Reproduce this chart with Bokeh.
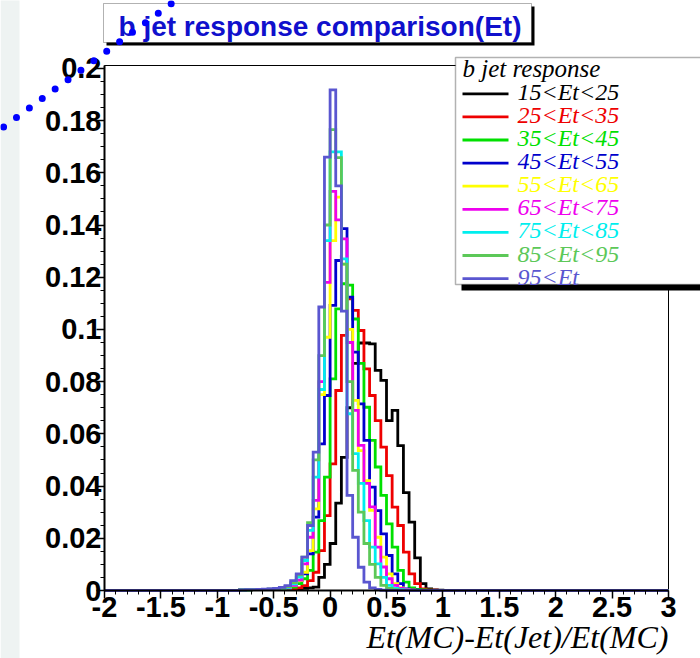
import numpy as np
from bokeh.plotting import figure
from bokeh.models import Range1d, FixedTicker, Label, BoxAnnotation, Arrow
from bokeh.embed import file_html
from bokeh.resources import INLINE

# ---------------- data ----------------
bin_width = 0.05
first_edge = -0.8          # left edge of the first listed bin
x_lo, x_hi = -2.0, 3.0
y_hi = 0.2011

series_labels = ["15<Et<25", "25<Et<35", "35<Et<45", "45<Et<55", "55<Et<65",
                 "65<Et<75", "75<Et<85", "85<Et<95", "95<Et"]
series_colors = ["#000000", "#ee0000", "#00e000", "#0000cc", "#ffff00",
                 "#ee00ee", "#00eeee", "#5cc858", "#5a56d0"]

et_15_25 = [0.0003, 0.0003, 0.0003, 0.0003, 0.0004, 0.0004, 0.0004, 0.0005, 0.0005, 0.0006,
            0.0007, 0.0008, 0.0010, 0.0013, 0.0050, 0.0100, 0.0180, 0.0335, 0.0510, 0.0700,
            0.0870, 0.0948, 0.0948, 0.0945, 0.0843, 0.0805, 0.0651, 0.0690, 0.0555, 0.0375,
            0.0262, 0.0125, 0.0026, 0.0006, 0.0002, 0.0001]
et_25_35 = [0.0002, 0.0002, 0.0003, 0.0003, 0.0003, 0.0004, 0.0004, 0.0005, 0.0005, 0.0006,
            0.0010, 0.0019, 0.0038, 0.0070, 0.0153, 0.0287, 0.0485, 0.0766, 0.0977, 0.1117,
            0.1073, 0.0996, 0.0849, 0.0747, 0.0651, 0.0549, 0.0440, 0.0319, 0.0249, 0.0147,
            0.0064, 0.0026, 0.0006, 0.0002, 0.0001, 0.0]
et_35_45 = [0.0002, 0.0003, 0.0003, 0.0003, 0.0004, 0.0004, 0.0005, 0.0006, 0.0008, 0.0013,
            0.0026, 0.0045, 0.0077, 0.0147, 0.0268, 0.0434, 0.0811, 0.1079, 0.1175, 0.1170,
            0.1040, 0.0870, 0.0702, 0.0575, 0.0473, 0.0364, 0.0255, 0.0166, 0.0077, 0.0032,
            0.0010, 0.0004, 0.0002, 0.0001, 0.0, 0.0]
et_45_55 = [0.0002, 0.0003, 0.0003, 0.0004, 0.0004, 0.0005, 0.0005, 0.0006, 0.0010, 0.0019,
            0.0038, 0.0064, 0.0140, 0.0281, 0.0562, 0.0747, 0.1092, 0.1264, 0.1386, 0.1124,
            0.0913, 0.0715, 0.0575, 0.0396, 0.0306, 0.0217, 0.0134, 0.0064, 0.0026, 0.0006,
            0.0002, 0.0001, 0.0, 0.0, 0.0, 0.0]
et_55_65 = [0.0002, 0.0002, 0.0003, 0.0003, 0.0004, 0.0004, 0.0005, 0.0006, 0.0010, 0.0020,
            0.0038, 0.0070, 0.0153, 0.0313, 0.0750, 0.0970, 0.1340, 0.1507, 0.1250, 0.1000,
            0.0728, 0.0536, 0.0421, 0.0307, 0.0204, 0.0128, 0.0064, 0.0026, 0.0010, 0.0003,
            0.0001, 0.0, 0.0, 0.0, 0.0, 0.0]
et_65_75 = [0.0002, 0.0002, 0.0003, 0.0003, 0.0004, 0.0004, 0.0005, 0.0006, 0.0010, 0.0020,
            0.0040, 0.0102, 0.0204, 0.0345, 0.0800, 0.1180, 0.1529, 0.1420, 0.1347, 0.0950,
            0.0690, 0.0556, 0.0410, 0.0320, 0.0166, 0.0090, 0.0045, 0.0020, 0.0008, 0.0003,
            0.0001, 0.0, 0.0, 0.0, 0.0, 0.0]
et_75_85 = [0.0002, 0.0002, 0.0003, 0.0003, 0.0004, 0.0004, 0.0005, 0.0006, 0.0012, 0.0025,
            0.0051, 0.0115, 0.0230, 0.0434, 0.0770, 0.1340, 0.1680, 0.1680, 0.1270, 0.0677,
            0.0524, 0.0410, 0.0268, 0.0166, 0.0102, 0.0050, 0.0020, 0.0008, 0.0003, 0.0001,
            0.0, 0.0, 0.0, 0.0, 0.0, 0.0]
et_85_95 = [0.0002, 0.0002, 0.0003, 0.0003, 0.0004, 0.0005, 0.0006, 0.0008, 0.0015, 0.0030,
            0.0060, 0.0128, 0.0260, 0.0500, 0.0900, 0.1400, 0.1765, 0.1658, 0.1250, 0.0800,
            0.0460, 0.0300, 0.0180, 0.0100, 0.0050, 0.0020, 0.0008, 0.0003, 0.0001, 0.0,
            0.0, 0.0, 0.0, 0.0, 0.0, 0.0]
et_95_up = [0.0002, 0.0003, 0.0003, 0.0004, 0.0005, 0.0006, 0.0008, 0.0012, 0.0019, 0.0038,
            0.0064, 0.0128, 0.0249, 0.0530, 0.1086, 0.1660, 0.1918, 0.1550, 0.1070, 0.0364,
            0.0204, 0.0089, 0.0032, 0.0010, 0.0004, 0.0001, 0.0, 0.0, 0.0, 0.0,
            0.0, 0.0, 0.0, 0.0, 0.0, 0.0]
series_values = [et_15_25, et_25_35, et_35_45, et_45_55, et_55_65,
                 et_65_75, et_75_85, et_85_95, et_95_up]

y_ticks = [0, 0.02, 0.04, 0.06, 0.08, 0.1, 0.12, 0.14, 0.16, 0.18, 0.2]
y_tick_labels = ["0", "0.02", "0.04", "0.06", "0.08", "0.1", "0.12", "0.14", "0.16", "0.18", "0.2"]
x_ticks = [-2, -1.5, -1, -0.5, 0, 0.5, 1, 1.5, 2, 2.5, 3]
x_tick_labels = ["-2", "-1.5", "-1", "-0.5", "0", "0.5", "1", "1.5", "2", "2.5", "3"]

title_text = "b jet response comparison(Et)"
legend_title = "b jet response"
x_title = "Et(MC)-Et(Jet)/Et(MC)"

# ---------------- layout (page pixels) ----------------
W, H = 700, 658
FL, FR, FT, FB = 104, 668, 65, 590   # histogram frame edges on the page
TXT = 7                               # alphabetic-baseline correction for labels

# the Bokeh frame covers the whole canvas; the ranges are widened so that the
# histogram area [x_lo, x_hi] x [0, y_hi] lands on the frame above.
px_per_x = (FR - FL) / (x_hi - x_lo)
px_per_y = (FB - FT) / y_hi
x_range = Range1d(x_lo - FL / px_per_x, x_hi + (W - FR) / px_per_x)
y_range = Range1d(-(H - FB) / px_per_y, y_hi + FT / px_per_y)


def sx(px):
    return px


def sy(py):
    return H - py


def box(l, t, r, b, **kw):
    return BoxAnnotation(left=sx(l), right=sx(r), top=sy(t), bottom=sy(b),
                         left_units="screen", right_units="screen",
                         top_units="screen", bottom_units="screen", **kw)


def text(x, base, s, **kw):
    return Label(x=sx(x), y=sy(base - TXT), x_units="screen", y_units="screen",
                 text=s, text_baseline="alphabetic", **kw)


p = figure(width=W, height=H, output_backend="svg", toolbar_location=None,
           x_range=x_range, y_range=y_range,
           min_border=0, min_border_left=0, min_border_right=0,
           min_border_top=0, min_border_bottom=0)
p.background_fill_color = "white"
p.border_fill_color = "white"
p.outline_line_color = None
p.xgrid.visible = False
p.ygrid.visible = False

# left pale strip of the slide
p.add_layout(box(0, -5, 19, H + 5, fill_color="#eef3f2", fill_alpha=1, line_alpha=0,
                 level="underlay"))

# histogram frame box
p.quad(left=[x_lo], right=[x_hi], bottom=[0], top=[y_hi], fill_alpha=0,
       line_color="black", line_width=1)


def staircase(values):
    edges = first_edge + bin_width * np.arange(len(values) + 1)
    xs = [x_lo, edges[0]]
    ys = [0.0, 0.0]
    for i, v in enumerate(values):
        xs += [edges[i], edges[i + 1]]
        ys += [v, v]
    xs += [edges[-1], x_hi]
    ys += [0.0, 0.0]
    return xs, ys


for vals, col in zip(series_values, series_colors):
    xs, ys = staircase(vals)
    p.line(xs, ys, line_color=col, line_width=2.8, line_join="miter")

# axes pinned to the histogram frame
p.xaxis.fixed_location = 0
p.yaxis.fixed_location = x_lo
p.xaxis.bounds = (x_lo, x_hi)
p.yaxis.bounds = (0, y_hi)
p.xaxis.ticker = FixedTicker(ticks=x_ticks, minor_ticks=list(np.round(np.arange(-2, 3.0001, 0.1), 2)))
p.yaxis.ticker = FixedTicker(ticks=y_ticks, minor_ticks=list(np.round(np.arange(0, 0.2001, 0.005), 3)))
p.xaxis.major_label_overrides = dict(zip(x_ticks, x_tick_labels))
p.yaxis.major_label_overrides = dict(zip(y_ticks, y_tick_labels))
for ax in (p.xaxis, p.yaxis):
    ax.axis_line_width = 2
    ax.axis_line_color = "black"
    ax.major_tick_in = 0
    ax.minor_tick_in = 0
    ax.major_tick_out = 8
    ax.minor_tick_out = 4
    ax.major_tick_line_width = 1.5
    ax.minor_tick_line_width = 1
    ax.major_label_text_font = "Liberation Sans"
    ax.major_label_text_font_style = "bold"
    ax.major_label_text_font_size = "29px"
    ax.major_label_text_color = "black"
p.yaxis.major_label_standoff = -5
p.xaxis.major_label_standoff = -2

# x-axis title, right aligned like ROOT
p.add_layout(text(668, 643, x_title, text_font="Liberation Serif", text_font_style="italic",
                  text_font_size="32px", text_color="black", text_align="right"))

# title box with shadow
p.add_layout(box(106, 6, 534, 45, fill_color="black", fill_alpha=1, line_alpha=0))
p.add_layout(box(103, 3, 531, 42, fill_color="white", fill_alpha=1,
                 line_color="black", line_width=1))
p.add_layout(text(118, 33, title_text, text_font="Liberation Sans", text_font_style="bold",
                  text_font_size="28px", text_color="#1010cc"))

# legend box with shadow
p.add_layout(box(461, 63, 712, 290, fill_color="black", fill_alpha=1, line_alpha=0))
p.add_layout(box(455, 57, 706, 284, fill_color="white", fill_alpha=1,
                 line_color="black", line_width=1.5))
p.add_layout(text(462, 75, legend_title, text_font="Liberation Serif", text_font_style="italic",
                  text_font_size="25px", text_color="black"))
row0, dy = 98.3, 23.1
for i, (lab, col) in enumerate(zip(series_labels, series_colors)):
    base = row0 + dy * i
    p.add_layout(Arrow(end=None, x_start=sx(462), y_start=sy(base - 5), x_end=sx(508), y_end=sy(base - 5),
                       start_units="screen", end_units="screen", line_color=col, line_width=2.8))
    p.add_layout(text(517, base, lab, text_font="Liberation Serif", text_font_style="italic",
                      text_font_size="24px", text_color=col))

# blue dotted slide decoration
p.add_layout(Arrow(end=None, x_start=sx(-9.8), y_start=sy(136), x_end=sx(184), y_end=sy(-6.5),
                   start_units="screen", end_units="screen", line_color="#0000ff",
                   line_width=7, line_dash="0 16", line_cap="round"))

open("out.html", "w").write(file_html(p, INLINE))
